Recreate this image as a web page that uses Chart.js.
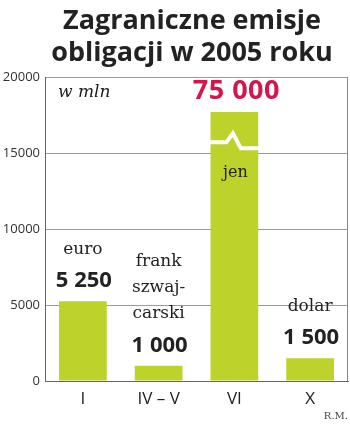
<!DOCTYPE html>
<html>
<head>
<meta charset="utf-8">
<script src="https://cdn.jsdelivr.net/npm/chart.js@4/dist/chart.umd.min.js"></script>
<style>
html,body{margin:0;padding:0;background:#fff;}
#wrap{width:350px;height:425px;position:relative;}
</style>
</head>
<body>
<div id="wrap"><canvas id="c" width="350" height="425"></canvas></div>
<script>
// ---- data ----
const categories = ['I', 'IV – V', 'VI', 'X'];
const values = [5250, 1000, 17700, 1500];           // VI bar is cut (axis break), true value 75 000
const valueLabels = ['5 250', '1 000', '75 000', '1 500'];
const currencyLabels = [['euro'], ['frank', 'szwaj-', 'carski'], ['jen'], ['dolar']];
const yTicks = [0, 5000, 10000, 15000, 20000];
const brokenIndex = 2;
const breakValue = 15700;
const titleLines = ['Zagraniczne emisje', 'obligacji w 2005 roku'];
const unitLabel = 'w mln';
const sourceLabel = 'R.M.';

const BAR = '#bed22c';
const RED = '#d4164c';
const DARK = '#222222';

const annot = {
  id: 'annot',
  afterDatasetsDraw(chart) {
    const ctx = chart.ctx;
    const area = chart.chartArea;
    const ys = chart.scales.y;
    const meta = chart.getDatasetMeta(0);
    ctx.save();
    // right frame line
    ctx.strokeStyle = '#8a8a8a';
    ctx.lineWidth = 1;
    ctx.beginPath();
    ctx.moveTo(Math.round(area.right) - 0.5, area.top);
    ctx.lineTo(Math.round(area.right) - 0.5, area.bottom);
    ctx.stroke();

    // axis break on the cut bar
    const b = meta.data[brokenIndex];
    const half = b.width / 2;
    const yb = ys.getPixelForValue(breakValue);
    ctx.strokeStyle = '#ffffff';
    ctx.lineWidth = 4;
    ctx.lineJoin = 'miter';
    ctx.beginPath();
    ctx.moveTo(b.x - half - 1, yb);
    ctx.lineTo(b.x - 8, yb);
    ctx.lineTo(b.x - 1.5, yb - 9);
    ctx.lineTo(b.x + 6.5, yb + 6);
    ctx.lineTo(b.x + half + 1, yb + 6);
    ctx.stroke();

    // labels
    ctx.textAlign = 'center';
    ctx.textBaseline = 'middle';
    meta.data.forEach((bar, i) => {
      const top = bar.y;
      if (i === brokenIndex) {
        ctx.fillStyle = RED;
        ctx.font = 'bold 27px "Open Sans"';
        ctx.letterSpacing = '0.5px';
        ctx.fillText(valueLabels[i], bar.x + 2, top - 21);
        ctx.letterSpacing = '0px';
        ctx.fillStyle = DARK;
        ctx.font = '16px "DejaVu Serif"';
        ctx.fillText(currencyLabels[i][0], bar.x + 1, yb + 30);
      } else {
        const vy = top - 20;
        ctx.fillStyle = DARK;
        ctx.font = 'bold 22px "Open Sans"';
        ctx.fillText(valueLabels[i], bar.x + 1, vy);
        ctx.font = '17px "DejaVu Serif"';
        const lines = currencyLabels[i];
        const lh = 26;
        lines.forEach((ln, k) => {
          ctx.fillText(ln, bar.x, vy - 32 - (lines.length - 1 - k) * lh);
        });
      }
    });

    // unit label
    ctx.textAlign = 'left';
    ctx.fillStyle = DARK;
    ctx.font = 'italic 17px "DejaVu Serif"';
    ctx.fillText(unitLabel, area.left + 13, area.top + 16);

    // title
    ctx.textAlign = 'center';
    ctx.textBaseline = 'alphabetic';
    ctx.font = 'bold 27px "Open Sans"';
    ctx.fillStyle = DARK;
    ctx.fillText(titleLines[0], 192, 29);
    ctx.fillText(titleLines[1], 192, 61);

    // source
    ctx.textAlign = 'right';
    ctx.font = '10px "DejaVu Serif"';
    ctx.fillStyle = '#444';
    ctx.fillText(sourceLabel, 348, 419);
    ctx.restore();
  }
};

new Chart(document.getElementById('c'), {
  type: 'bar',
  data: {
    labels: categories,
    datasets: [{
      data: values,
      backgroundColor: BAR,
      borderWidth: 0,
      barPercentage: 0.63,
      categoryPercentage: 1.0
    }]
  },
  options: {
    responsive: false,
    animation: false,
    devicePixelRatio: 1,
    layout: { padding: { top: 77, left: 0, right: 2, bottom: 0 } },
    plugins: { legend: { display: false }, tooltip: { enabled: false }, title: { display: false } },
    scales: {
      x: {
        grid: { display: false, drawTicks: false },
        border: { display: true, color: '#666', width: 1 },
        ticks: { color: DARK, font: { family: 'Open Sans', size: 17 }, padding: 8 },
        afterFit: s => { s.height = 44; }
      },
      y: {
        min: 0, max: 20000,
        afterBuildTicks: s => { s.ticks = yTicks.map(v => ({ value: v })); },
        grid: { color: '#9a9a9a', lineWidth: 1, drawTicks: false },
        border: { display: true, color: '#666', width: 1 },
        ticks: { color: '#333', font: { family: 'Open Sans', size: 13 }, padding: 5,
                 callback: v => String(v) },
        afterFit: s => { s.width = 45; }
      }
    }
  },
  plugins: [annot]
});
</script>
</body>
</html>
